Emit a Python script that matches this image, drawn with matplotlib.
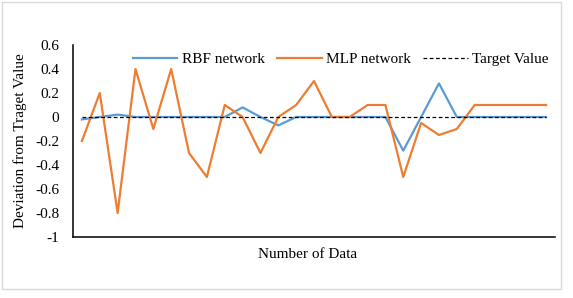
import numpy as np
import matplotlib
matplotlib.use("Agg")
import matplotlib.pyplot as plt
from matplotlib.patches import Rectangle

# Data
rbf = [-0.02, 0, 0.02, 0, 0, 0, 0, 0, 0, 0.08, 0, -0.07, 0, 0,
       0, 0, 0, 0, -0.28, 0, 0.28, 0, 0, 0, 0, 0, 0]
mlp = [-0.2, 0.2, -0.8, 0.4, -0.1, 0.4, -0.3, -0.5, 0.1, 0, -0.3, 0, 0.1, 0.3,
       0, 0, 0.1, 0.1, -0.5, -0.05, -0.15, -0.1, 0.1, 0.1, 0.1, 0.1, 0.1]
target = [0] * len(mlp)
yticks = [0.6, 0.4, 0.2, 0, -0.2, -0.4, -0.6, -0.8, -1]
ytick_labels = ["0.6", "0.4", "0.2", "0", "-0.2", "-0.4", "-0.6", "-0.8", "-1"]

plt.rcParams["font.family"] = ["Liberation Serif", "DejaVu Serif"]

W, H = 573, 298
fig = plt.figure(figsize=(W / 100, H / 100), dpi=100)
ax = fig.add_axes([73 / W, 1 - 237 / H, (555 - 73) / W, (237 - 45) / H])

x = np.arange(len(mlp))
ax.plot(x, rbf, color="#5B9BD5", lw=1.6, label="RBF network")
ax.plot(x, mlp, color="#ED7D31", lw=1.6, label="MLP network")
ax.plot(x, target, color="black", lw=0.9, ls=(0, (3, 2)), label="Target Value")

ax.set_xlim(-0.5, len(mlp) - 0.5)
ax.set_ylim(-1, 0.6)
ax.set_yticks(yticks)
ax.set_yticklabels(ytick_labels)
ax.set_xticks([])
ax.tick_params(axis="y", length=0, pad=10, labelsize=11)
for s in ["top", "right"]:
    ax.spines[s].set_visible(False)
for s in ["left", "bottom"]:
    ax.spines[s].set_linewidth(1.1)
    ax.spines[s].set_color("black")

ax.legend(loc="center", bbox_to_anchor=(0.556, 0.927), ncol=3, frameon=False,
          fontsize=11, handlelength=2.9, columnspacing=0.8, handletextpad=0.3)

fig.text(308 / W, 1 - 255 / H, "Number of Data", ha="center", va="center", fontsize=11)
fig.text(20 / W, 1 - 141 / H, "Deviation from Traget Value", ha="center", va="center",
         rotation=90, fontsize=11)

# light gray frame around the chart area
fig.patches.append(Rectangle((2 / W, 1 - 289 / H), 559 / W, 287 / H, transform=fig.transFigure,
                             fill=False, edgecolor="#D9D9D9", lw=1.0))

fig.savefig("out.png", dpi=100)
